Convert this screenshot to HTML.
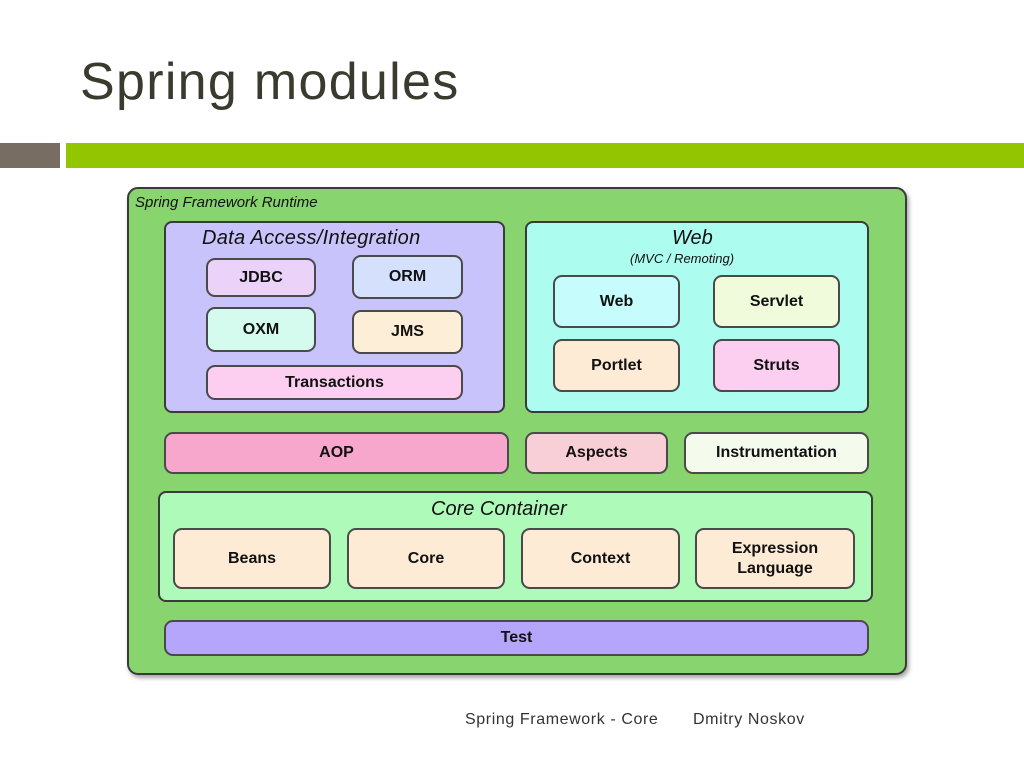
<!DOCTYPE html>
<html><head><meta charset="utf-8"><style>
body{margin:0;width:1024px;height:768px;background:#fff;position:relative;overflow:hidden;font-family:"Liberation Sans",sans-serif}
.a{position:absolute;box-sizing:border-box}
.b{position:absolute;box-sizing:border-box;border:2px solid #4a4a4a;border-radius:9px;display:flex;align-items:center;justify-content:center;font-weight:bold;font-size:16px;color:#111;text-align:center;line-height:20px}
.c{position:absolute;box-sizing:border-box;border:2px solid #3a3a3a;border-radius:8px}
.t{position:absolute;font-style:italic;color:#111;white-space:nowrap}
</style></head><body>
<div class="a" style="left:80px;top:52px;font-size:52px;color:#3b3a2e;white-space:nowrap;letter-spacing:1.3px">Spring modules</div>
<div class="a" style="left:0;top:143px;width:60px;height:25px;background:#776d62"></div>
<div class="a" style="left:66px;top:143px;width:958px;height:25px;background:#94c600"></div>

<div class="c" style="left:127px;top:187px;width:780px;height:488px;background:#88d46f;border-radius:11px;box-shadow:2px 3px 4px rgba(0,0,0,.35)"></div>
<div class="t" style="left:135px;top:194px;font-size:15px">Spring Framework Runtime</div>

<div class="c" style="left:164px;top:221px;width:341px;height:192px;background:#c9c3fb"></div>
<div class="t" style="left:202px;top:227px;font-size:20px;letter-spacing:0.3px">Data Access/Integration</div>
<div class="b" style="left:206px;top:258px;width:110px;height:39px;background:#ebd2f8">JDBC</div>
<div class="b" style="left:352px;top:255px;width:111px;height:44px;background:#d4e0fc">ORM</div>
<div class="b" style="left:206px;top:307px;width:110px;height:45px;background:#d4fbee">OXM</div>
<div class="b" style="left:352px;top:310px;width:111px;height:44px;background:#fdeed8">JMS</div>
<div class="b" style="left:206px;top:365px;width:257px;height:35px;background:#fccef0">Transactions</div>

<div class="c" style="left:525px;top:221px;width:344px;height:192px;background:#adfcf0"></div>
<div class="t" style="left:672px;top:227px;font-size:20px">Web</div>
<div class="t" style="left:630px;top:251px;font-size:13px">(MVC / Remoting)</div>
<div class="b" style="left:553px;top:275px;width:127px;height:53px;background:#c6fcfc">Web</div>
<div class="b" style="left:713px;top:275px;width:127px;height:53px;background:#f0fbdc">Servlet</div>
<div class="b" style="left:553px;top:339px;width:127px;height:53px;background:#fdebd6">Portlet</div>
<div class="b" style="left:713px;top:339px;width:127px;height:53px;background:#fccef0">Struts</div>

<div class="b" style="left:164px;top:432px;width:345px;height:42px;background:#f6a7cb">AOP</div>
<div class="b" style="left:525px;top:432px;width:143px;height:42px;background:#f9cfd7">Aspects</div>
<div class="b" style="left:684px;top:432px;width:185px;height:42px;background:#f4fbec">Instrumentation</div>

<div class="c" style="left:158px;top:491px;width:715px;height:111px;background:#aefab9"></div>
<div class="t" style="left:431px;top:498px;font-size:20px">Core Container</div>
<div class="b" style="left:173px;top:528px;width:158px;height:61px;background:#fdebd6">Beans</div>
<div class="b" style="left:347px;top:528px;width:158px;height:61px;background:#fdebd6">Core</div>
<div class="b" style="left:521px;top:528px;width:159px;height:61px;background:#fdebd6">Context</div>
<div class="b" style="left:695px;top:528px;width:160px;height:61px;background:#fdebd6">Expression<br>Language</div>

<div class="b" style="left:164px;top:620px;width:705px;height:36px;background:#b5a6fb">Test</div>

<div class="a" style="left:465px;top:711px;font-size:16px;color:#333;white-space:nowrap;letter-spacing:0.6px">Spring Framework - Core</div>
<div class="a" style="left:693px;top:711px;font-size:16px;color:#333;white-space:nowrap;letter-spacing:0.6px">Dmitry Noskov</div>
</body></html>
